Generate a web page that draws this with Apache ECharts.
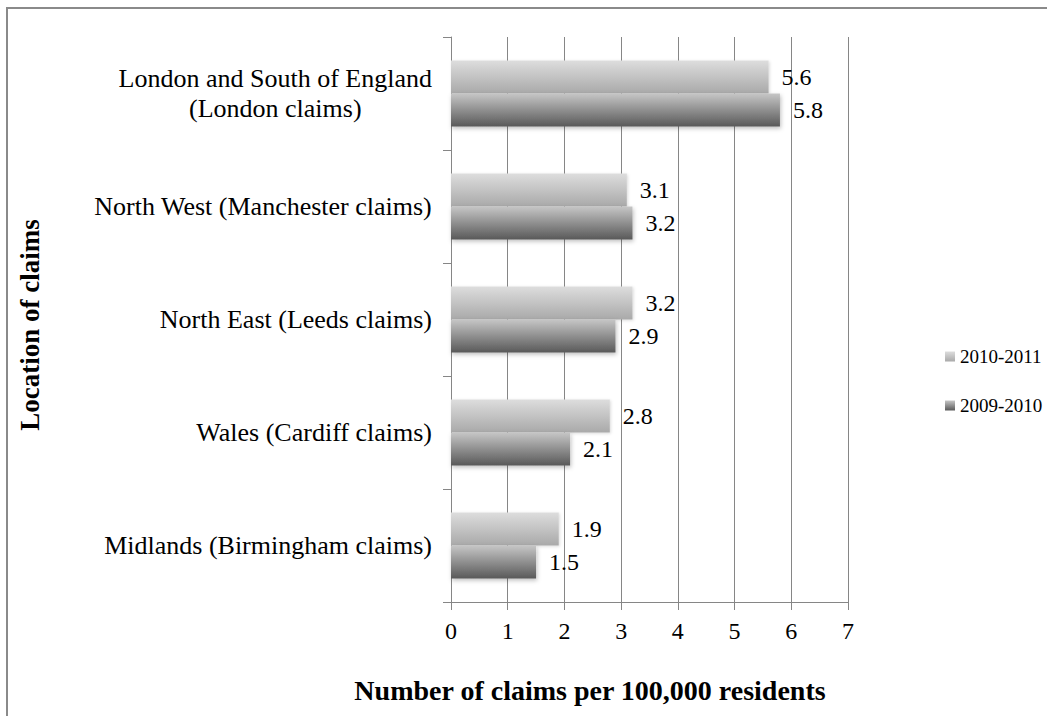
<!DOCTYPE html>
<html>
<head>
<meta charset="utf-8">
<script src="https://cdn.jsdelivr.net/npm/echarts@6/dist/echarts.min.js"></script>
<style>
  html, body { margin: 0; padding: 0; background: #fff; }
  #chart { width: 1047px; height: 716px; }
</style>
</head>
<body>
<div id="chart"></div>
<script>
// Regions, listed bottom to top as the category axis runs upward
const regions = [
  'Midlands (Birmingham claims)',
  'Wales (Cardiff claims)',
  'North East (Leeds claims)',
  'North West (Manchester claims)',
  'London and South of England\n(London claims)'
];
const claims2010_2011 = [1.9, 2.8, 3.2, 3.1, 5.6];
const claims2009_2010 = [1.5, 2.1, 2.9, 3.2, 5.8];
const seriesNames = ['2010-2011', '2009-2010'];
const xTicks = [0, 1, 2, 3, 4, 5, 6, 7];

const FONT = '"Liberation Serif", "Times New Roman", serif';

function vGrad(top, bottom) {
  return new echarts.graphic.LinearGradient(0, 0, 0, 1, [
    { offset: 0, color: top },
    { offset: 1, color: bottom }
  ]);
}

const labelStyle = {
  show: true,
  position: 'right',
  distance: 13,
  fontFamily: FONT,
  fontSize: 24,
  color: '#000',
  formatter: p => p.value.toFixed(1)
};

const chart = echarts.init(document.getElementById('chart'), null, { renderer: 'svg' });

chart.setOption({
  animation: false,
  backgroundColor: '#fff',
  grid: { left: 451, right: 199, top: 37, bottom: 114, containLabel: false },
  legend: {
    orient: 'vertical',
    left: 940,
    top: 342,
    itemWidth: 10,
    itemHeight: 10,
    itemGap: 30,
    icon: 'rect',
    data: seriesNames,
    textStyle: { fontFamily: FONT, fontSize: 19, color: '#000' }
  },
  xAxis: {
    type: 'value',
    min: xTicks[0],
    max: xTicks[xTicks.length - 1],
    interval: 1,
    axisLine: { show: true, lineStyle: { color: '#868686', width: 1 } },
    axisTick: { show: true, length: 8, lineStyle: { color: '#868686' } },
    axisLabel: { margin: 17, fontFamily: FONT, fontSize: 24, color: '#000' },
    splitLine: { show: true, lineStyle: { color: '#868686', width: 1 } }
  },
  yAxis: {
    type: 'category',
    data: regions,
    axisLine: { show: true, lineStyle: { color: '#868686', width: 1 } },
    axisTick: { show: true, length: 8, lineStyle: { color: '#868686' } },
    axisLabel: {
      margin: 19,
      fontFamily: FONT,
      fontSize: 26,
      color: '#000',
      formatter: v => v.split('\n').map(s => '{c|' + s + '}').join('\n'),
      rich: { c: { fontFamily: FONT, fontSize: 26, color: '#000', align: 'center', lineHeight: 30 } }
    }
  },
  series: [
    {
      name: seriesNames[0],
      type: 'bar',
      data: claims2010_2011,
      barWidth: 33,
      barGap: '0%',
      itemStyle: {
        color: vGrad('#dddddd', '#a9a9a9'),
        shadowColor: 'rgba(0,0,0,0.15)', shadowBlur: 3, shadowOffsetX: 1, shadowOffsetY: 1
      },
      label: labelStyle
    },
    {
      name: seriesNames[1],
      type: 'bar',
      data: claims2009_2010,
      barWidth: 33,
      barGap: '0%',
      itemStyle: {
        color: vGrad('#c6c6c6', '#595959'),
        shadowColor: 'rgba(0,0,0,0.25)', shadowBlur: 4, shadowOffsetX: 1, shadowOffsetY: 2
      },
      label: labelStyle
    }
  ],
  graphic: [
    {
      type: 'rect',
      silent: true,
      shape: { x: 7, y: 8, width: 1200, height: 900 },
      style: { fill: 'none', stroke: '#8a8a8a', lineWidth: 2 }
    },
    {
      type: 'text',
      x: 590, y: 690,
      style: {
        text: 'Number of claims per 100,000 residents',
        fontFamily: FONT, fontSize: 28, fontWeight: 'bold', fill: '#000',
        align: 'center', verticalAlign: 'middle'
      }
    },
    {
      type: 'text',
      x: 30, y: 325,
      rotation: Math.PI / 2,
      style: {
        text: 'Location of claims',
        fontFamily: FONT, fontSize: 27, fontWeight: 'bold', fill: '#000',
        align: 'center', verticalAlign: 'middle'
      }
    }
  ]
});
</script>
</body>
</html>
